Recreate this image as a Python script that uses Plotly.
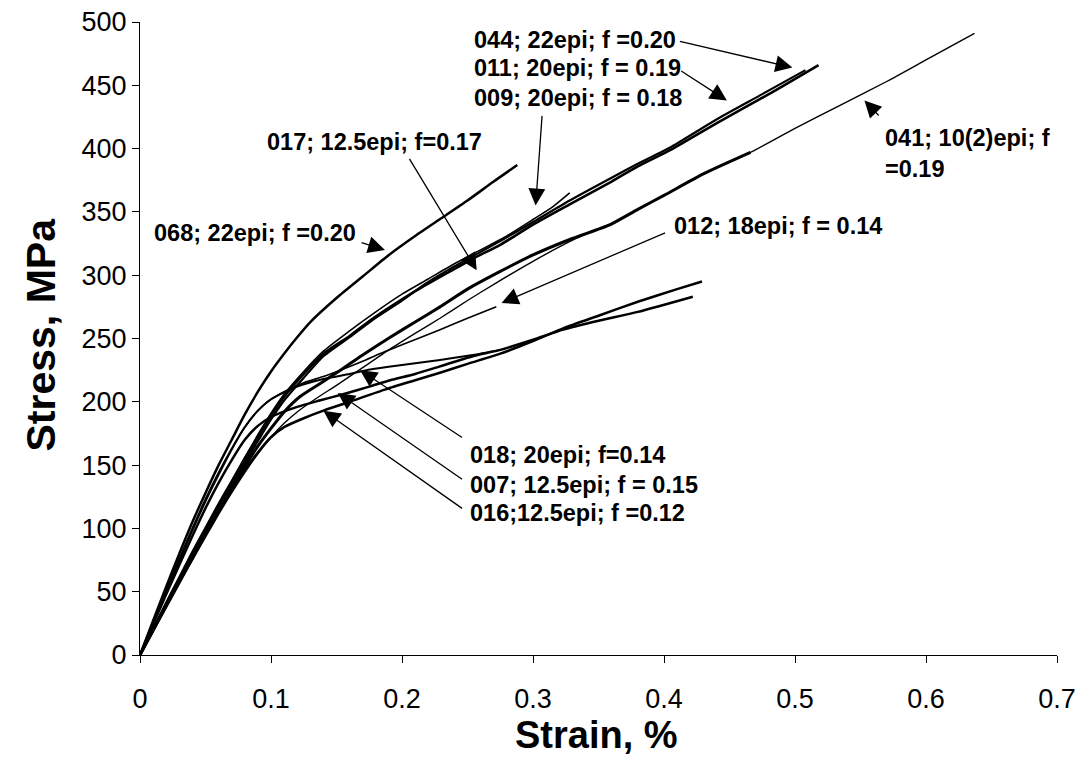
import plotly.graph_objects as go

# ---------------- data (strain %, stress MPa) ----------------
s068_x = [0, 0.01, 0.02, 0.03, 0.04, 0.05, 0.06, 0.07, 0.08, 0.09, 0.1, 0.11, 0.12, 0.13, 0.15, 0.17, 0.19, 0.21, 0.23, 0.25, 0.27, 0.288]
s068_y = [0, 27, 54, 80, 105, 128, 150, 170, 190, 208, 224, 238, 251, 263, 282, 299, 316, 331, 345, 359, 374, 387]

s044_x = [0, 0.01, 0.02, 0.03, 0.04, 0.05, 0.06, 0.07, 0.08, 0.09, 0.1, 0.11, 0.125, 0.14, 0.16, 0.178, 0.2, 0.216, 0.235, 0.254, 0.275, 0.3, 0.328, 0.36, 0.38, 0.405, 0.44, 0.48, 0.518]
s044_y = [0, 20, 40, 60, 80, 99, 118, 136, 155, 172, 189, 204, 222, 238, 252, 266, 281, 291, 302, 313, 324, 340, 356, 374, 386, 399, 420, 443, 466]

s011_x = [0, 0.01, 0.02, 0.03, 0.04, 0.05, 0.06, 0.07, 0.08, 0.09, 0.1, 0.11, 0.125, 0.14, 0.16, 0.178, 0.2, 0.216, 0.235, 0.254, 0.275, 0.3, 0.328, 0.36, 0.38, 0.405, 0.44, 0.475, 0.508]
s011_y = [0, 19, 39, 58, 77, 96, 115, 133, 152, 169, 186, 201, 219, 236, 251, 265, 280, 292, 304, 315, 327, 342, 359, 377, 388, 401, 423, 443, 462]

s009_x = [0, 0.01, 0.02, 0.03, 0.04, 0.05, 0.06, 0.07, 0.08, 0.09, 0.1, 0.11, 0.125, 0.14, 0.16, 0.18, 0.2, 0.22, 0.24, 0.26, 0.28, 0.3, 0.315, 0.328]
s009_y = [0, 21, 42, 62, 82, 101, 120, 138, 156, 174, 191, 206, 224, 240, 256, 271, 285, 297, 309, 320, 331, 344, 354, 365]

s017_x = [0, 0.01, 0.02, 0.03, 0.04, 0.05, 0.06, 0.07, 0.08, 0.09, 0.1, 0.11, 0.122, 0.14, 0.153, 0.17, 0.191, 0.21, 0.229, 0.25, 0.275, 0.3, 0.33, 0.359, 0.38, 0.40, 0.43, 0.466]
s017_y = [0, 20, 39, 58, 77, 96, 114, 132, 149, 165, 179, 192, 204, 216, 225, 237, 251, 263, 275, 289, 303, 316, 329, 340, 352, 363, 380, 397]

s041_x = [0, 0.01, 0.02, 0.03, 0.04, 0.05, 0.06, 0.07, 0.08, 0.09, 0.1, 0.11, 0.12, 0.135, 0.15, 0.17, 0.19, 0.21, 0.229, 0.25, 0.272, 0.3, 0.333, 0.36, 0.38, 0.40, 0.43, 0.466, 0.5, 0.534, 0.57, 0.6, 0.637]
s041_y = [0, 19, 38, 57, 75, 93, 111, 128, 144, 159, 172, 183, 192, 203, 213, 227, 241, 254, 266, 280, 294, 311, 329, 341, 352, 363, 380, 397, 416, 434, 453, 470, 491]

s012_x = [0, 0.01, 0.02, 0.03, 0.04, 0.05, 0.06, 0.07, 0.08, 0.09, 0.1, 0.11, 0.125, 0.14, 0.153, 0.17, 0.183, 0.2, 0.229, 0.25, 0.272]
s012_y = [0, 25, 50, 74, 98, 121, 142, 162, 180, 193, 202, 208, 215, 220, 225, 232, 238, 245, 257, 266, 275]

s018_x = [0, 0.01, 0.02, 0.03, 0.04, 0.05, 0.06, 0.07, 0.08, 0.09, 0.1, 0.12, 0.14, 0.16, 0.173, 0.2, 0.229, 0.254, 0.275]
s018_y = [0, 26, 51, 76, 100, 123, 144, 163, 180, 193, 202, 212, 218, 222, 225, 229, 233, 237, 241]

s007_x = [0, 0.01, 0.02, 0.03, 0.04, 0.05, 0.06, 0.07, 0.08, 0.09, 0.1, 0.12, 0.137, 0.155, 0.175, 0.191, 0.21, 0.229, 0.254, 0.275, 0.3, 0.323, 0.35, 0.38, 0.422]
s007_y = [0, 24, 48, 71, 94, 116, 136, 154, 170, 181, 188, 196, 201, 206, 212, 217, 222, 228, 236, 241, 249, 257, 264, 271, 283]

s016_x = [0, 0.01, 0.02, 0.03, 0.04, 0.05, 0.06, 0.07, 0.08, 0.09, 0.1, 0.11, 0.125, 0.14, 0.16, 0.188, 0.21, 0.229, 0.25, 0.275, 0.3, 0.323, 0.35, 0.38, 0.41, 0.429]
s016_y = [0, 19, 38, 57, 76, 95, 113, 130, 146, 160, 172, 180, 187, 193, 200, 210, 217, 223, 230, 238, 248, 258, 268, 279, 289, 295]

specimens = ["068", "044", "011", "009", "017", "041", "012", "018", "007", "016"]
labels = [
    "068; 22epi; f =0.20",
    "044; 22epi; f =0.20",
    "011; 20epi; f = 0.19",
    "009; 20epi; f = 0.18",
    "017; 12.5epi; f=0.17",
    "041; 10(2)epi; f<br>=0.19",
    "012; 18epi; f = 0.14",
    "018; 20epi; f=0.14",
    "007; 12.5epi; f = 0.15",
    "016;12.5epi; f =0.12",
]
x_ticks = [0, 0.1, 0.2, 0.3, 0.4, 0.5, 0.6, 0.7]
y_ticks = [0, 50, 100, 150, 200, 250, 300, 350, 400, 450, 500]

series = {
    "068": (s068_x, s068_y), "044": (s044_x, s044_y), "011": (s011_x, s011_y),
    "009": (s009_x, s009_y), "017": (s017_x, s017_y), "041": (s041_x, s041_y),
    "012": (s012_x, s012_y), "018": (s018_x, s018_y), "007": (s007_x, s007_y),
    "016": (s016_x, s016_y),
}
widths = {"068": 2.5, "044": 2.6, "011": 2.2, "009": 1.6, "017": 3.0, "041": 1.4,
          "012": 1.6, "018": 2.0, "007": 2.5, "016": 2.5}

FONT = "Liberation Sans, Arial, Helvetica, sans-serif"

fig = go.Figure()
for sp in specimens:
    xs, ys = series[sp]
    fig.add_trace(go.Scatter(x=xs, y=ys, mode="lines", name=sp,
                             line=dict(color="black", width=widths[sp], shape="spline", smoothing=0.6),
                             showlegend=False, hoverinfo="skip"))

# label placement (left x, centre y in data units) and arrows (tail -> head)
label_pos = {
    "068": (0.0092, 333), "044": (0.2534, 485.5), "011": (0.2534, 463.5),
    "009": (0.2534, 440), "017": (0.0954, 405), "041": (0.567, 396),
    "012": (0.406, 339), "018": (0.2504, 158), "007": (0.2504, 134), "016": (0.2504, 112),
}
arrow_pos = {
    "068": ((0.168, 326), (0.187, 320)),
    "044": ((0.411, 485), (0.498, 464)),
    "011": ((0.412, 462), (0.448, 438)),
    "009": ((0.307, 427), (0.302, 355)),
    "017": ((0.205, 393), (0.257, 304)),
    "041": ((0.565, 425), (0.553, 438)),
    "012": ((0.402, 334), (0.276, 278)),
    "018": ((0.247, 171), (0.168, 225)),
    "007": ((0.247, 138), (0.151, 207)),
    "016": ((0.247, 115), (0.140, 193)),
}

annotations = []
for sp, lab in zip(specimens, labels):
    lx, ly = label_pos[sp]
    annotations.append(dict(x=lx, y=ly, xref="x", yref="y", text="<b>" + lab + "</b>",
                            showarrow=False, xanchor="left", yanchor="middle", align="left",
                            font=dict(family=FONT, size=23.5, color="black")))
    (tx, ty), (hx, hy) = arrow_pos[sp]
    annotations.append(dict(x=hx, y=hy, ax=tx, ay=ty, xref="x", yref="y", axref="x", ayref="y",
                            text="", showarrow=True, arrowhead=2, arrowsize=2.6, arrowwidth=1.3,
                            arrowcolor="black"))

annotations.append(dict(x=0.498, y=0, xref="paper", yref="paper", text="<b>Strain, %</b>",
                        showarrow=False, xanchor="center", yanchor="middle", yshift=-80,
                        font=dict(family=FONT, size=38, color="black")))
annotations.append(dict(x=0, y=0.5, xref="paper", yref="paper", text="<b>Stress, MPa</b>",
                        showarrow=False, xanchor="center", yanchor="middle", xshift=-100, yshift=4,
                        textangle=-90, font=dict(family=FONT, size=41, color="black")))

fig.update_layout(
    width=1077, height=752,
    margin=dict(l=132, r=28, t=14, b=105, autoexpand=False),
    paper_bgcolor="white", plot_bgcolor="white",
    annotations=annotations,
    font=dict(family=FONT, color="black"),
)
fig.update_xaxes(range=[0, 0.7], tickvals=x_ticks, ticktext=[str(v) for v in x_ticks],
                 automargin=False,
                 showgrid=False, zeroline=False, showline=True, linecolor="black", linewidth=1,
                 ticks="outside", ticklen=7, tickcolor="black", ticklabelstandoff=13,
                 ticklabeloverflow="allow", tickfont=dict(family=FONT, size=27))
fig.update_yaxes(range=[0, 500], tickvals=y_ticks, automargin=False,
                 showgrid=False, zeroline=False, showline=True, linecolor="black", linewidth=1,
                 ticks="outside", ticklen=7, tickcolor="black", ticklabeloverflow="allow",
                 tickfont=dict(family=FONT, size=27))

fig.write_html("out.html")
